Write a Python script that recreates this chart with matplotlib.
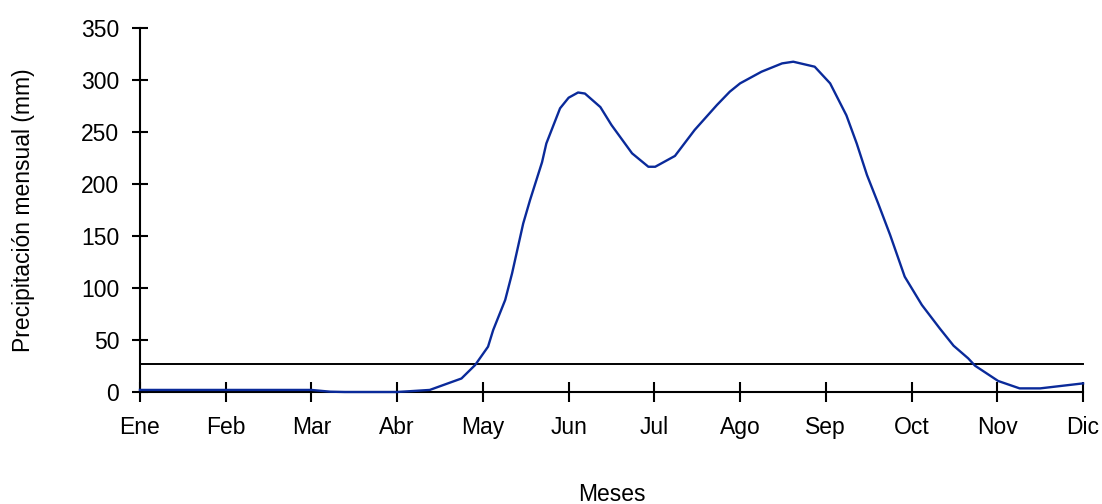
import numpy as np
from matplotlib import pyplot as plt

plt.rcParams['font.family'] = ['Liberation Sans', 'DejaVu Sans']

meses = ['Ene', 'Feb', 'Mar', 'Abr', 'May', 'Jun', 'Jul', 'Ago', 'Sep', 'Oct', 'Nov', 'Dic']

# posicion en meses (0 = Ene) y precipitacion mensual (mm)
pos = [0.0, 2.0, 2.22, 2.39, 3.0, 3.38, 3.75, 3.91, 4.06, 4.12, 4.26, 4.34, 4.47, 4.55,
       4.69, 4.74, 4.90, 5.00, 5.11, 5.19, 5.37, 5.50, 5.74, 5.93, 6.01, 6.24, 6.47,
       6.73, 6.88, 7.00, 7.25, 7.49, 7.62, 7.87, 8.05, 8.24, 8.36, 8.48, 8.61, 8.75,
       8.92, 9.12, 9.33, 9.49, 9.66, 9.74, 10.01, 10.26, 10.50, 11.0]
precip = [2, 2, 0.3, 0, 0, 2, 13, 26, 43.6, 59.6, 88.5, 114, 162, 184.6,
          221, 239, 272.8, 283, 288, 287, 274, 256.7, 229.5, 216.6, 216.6, 227, 252,
          276, 288.8, 296.8, 308, 316, 317.6, 312.8, 296.8, 266, 239, 208.6, 181.4, 151,
          110.9, 83.7, 61, 44.5, 32.4, 25.3, 10.6, 3.5, 3.5, 8.3]
umbral = 27

fig = plt.figure(figsize=(11.02, 5.04), dpi=100)
ax = fig.add_axes([0.127, 0.2222, 0.8558, 0.7222])

ax.plot(pos, precip, color='#0a2a9a', linewidth=1.7, clip_on=False, zorder=3)
ax.plot([0, 11], [umbral, umbral], color='black', linewidth=1.4, clip_on=False)

ax.set_xlim(0, 11)
ax.set_ylim(0, 350)
ax.set_xticks(range(12))
ax.set_xticklabels(meses)
ax.set_yticks(np.arange(0, 351, 50))

for s in ['top', 'right']:
    ax.spines[s].set_visible(False)
for s in ['left', 'bottom']:
    ax.spines[s].set_linewidth(1.5)

fs = 16.5
ax.tick_params(axis='y', direction='inout', length=12, width=1.5, labelsize=fs, pad=9)
ax.tick_params(axis='x', direction='inout', length=14, width=1.5, labelsize=fs, pad=10)

ax.set_ylabel('Precipitación mensual (mm)', fontsize=fs, labelpad=33)
ax.set_xlabel('Meses', fontsize=fs, labelpad=32)

plt.savefig('out.png', dpi=100)
